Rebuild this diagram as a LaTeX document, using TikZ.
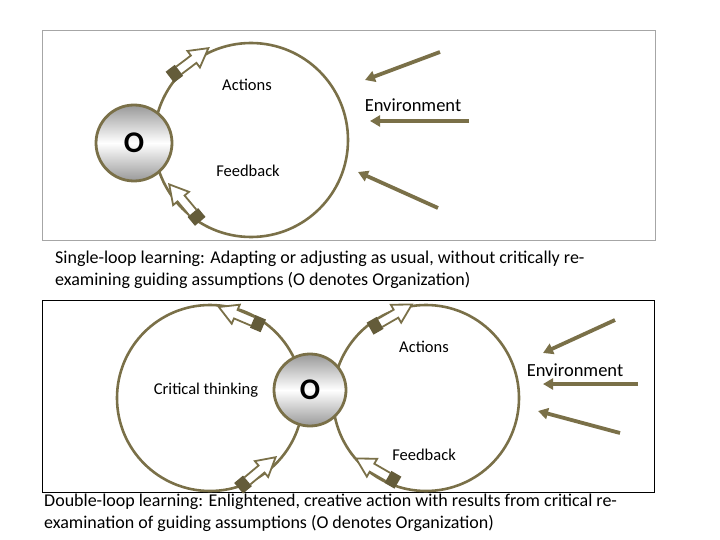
\documentclass[tikz,border=0pt]{standalone}
\usepackage{fontspec}
\setmainfont{Carlito}
\usetikzlibrary{arrows.meta}
\definecolor{olive}{RGB}{122,112,72}
\definecolor{darkol}{RGB}{100,92,58}
\tikzset{
  loop/.style={draw=olive,line width=2.6pt},
  orgnode/.style={circle,draw=olive,line width=2.8pt,minimum size=76pt,inner sep=0pt,
    top color=gray!80,bottom color=gray!80,middle color=white,font=\fontsize{30}{30}\selectfont\bfseries},
  envarrow/.style={draw=olive,line width=3.8pt,-{Triangle[length=10pt,width=11pt]}},
  lbl/.style={font=\fontsize{16.5}{18}\selectfont},
  envlbl/.style={font=\fontsize{18.5}{20}\selectfont},
  captext/.style={font=\fontsize{18}{22}\selectfont,align=left,anchor=north west,inner sep=0pt},
  blockarrow/.pic={
    \begin{scope}[scale=1.15]
    \fill[white] (-18,-4) -- (4,-4) -- (4,-9) -- (20,0) -- (4,9) -- (4,4) -- (-18,4) -- cycle;
    \draw[olive,line width=1.8pt] (-12,-4) -- (4,-4) -- (4,-9) -- (20,0) -- (4,9) -- (4,4) -- (-12,4);
    \fill[darkol] (-22,-6) rectangle (-12,6);
    \end{scope}
  }
}
\begin{document}
\begin{tikzpicture}[x=1pt,y=1pt]
\useasboundingbox (0,0) rectangle (720,-540);
% top box
\draw[gray!70,line width=0.8pt] (42,-30) rectangle (655,-240);
\draw[loop] (251,-140) circle (97);
\pic[rotate=37] at (190,-62) {blockarrow};
\pic[rotate=130] at (184,-202) {blockarrow};
\node[orgnode] (o1) at (134,-143) {O};
\node[lbl] (act1) at (247,-85) {Actions};
\node[lbl] (fb1) at (248,-171) {Feedback};
\node[envlbl] (env1) at (413,-105) {Environment};
\coordinate (e1a) at (440,-52); \coordinate (e1b) at (365,-80);
\coordinate (e2a) at (469,-121); \coordinate (e2b) at (370,-121);
\coordinate (e3a) at (438,-208); \coordinate (e3b) at (358,-172);
\draw[envarrow] (e1a) -- (e1b);
\draw[envarrow] (e2a) -- (e2b);
\draw[envarrow] (e3a) -- (e3b);
\node[captext] (c1) at (55,-251) {Single-loop learning: Adapting or adjusting as usual, without critically re-\\examining guiding assumptions (O denotes Organization)};
% bottom box
\draw[black,line width=0.8pt] (42,-300) rectangle (654,-492);
\draw[loop] (210,-398) circle (93);
\draw[loop] (426,-398) circle (93);
\pic[rotate=157] at (240,-316) {blockarrow};
\pic[rotate=40] at (258,-472) {blockarrow};
\pic[rotate=30] at (392,-316) {blockarrow};
\pic[rotate=150] at (376,-470) {blockarrow};
\node[orgnode,minimum size=72pt] (o2) at (310,-390) {O};
\node[lbl] (ct) at (206,-390) {Critical thinking};
\node[lbl] (act2) at (424,-347) {Actions};
\node[lbl] (fb2) at (424,-455) {Feedback};
\node[envlbl] (env2) at (575,-370) {Environment};
\coordinate (f1a) at (615,-320); \coordinate (f1b) at (543,-353);
\coordinate (f2a) at (638,-384); \coordinate (f2b) at (543,-384);
\coordinate (f3a) at (620,-433); \coordinate (f3b) at (538,-411);
\draw[envarrow] (f1a) -- (f1b);
\draw[envarrow] (f2a) -- (f2b);
\draw[envarrow] (f3a) -- (f3b);
\node[captext] (c2) at (44,-494) {Double-loop learning: Enlightened, creative action with results from critical re-\\examination of guiding assumptions (O denotes Organization)};
\end{tikzpicture}
\end{document}
